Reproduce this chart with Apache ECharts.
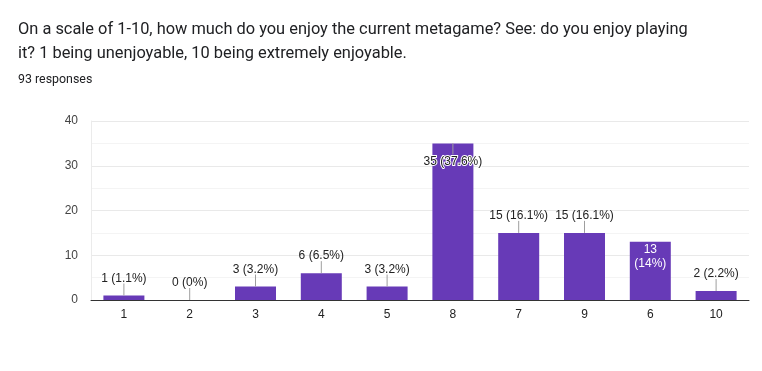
<!DOCTYPE html>
<html>
<head>
<meta charset="utf-8">
<script src="https://cdn.jsdelivr.net/npm/echarts@6/dist/echarts.min.js"></script>
<style>
html,body{margin:0;padding:0;background:#fff;}
#c{width:762px;height:371px;}
</style>
</head>
<body>
<div id="c"></div>
<script>
const categories = ['1','2','3','4','5','8','7','9','6','10'];
const counts = [1, 0, 3, 6, 3, 35, 15, 15, 13, 2];
const percents = ['1.1%','0%','3.2%','6.5%','3.2%','37.6%','16.1%','16.1%','14%','2.2%'];
const yTicks = [0, 10, 20, 30, 40];
const titleText = 'On a scale of 1-10, how much do you enjoy the current metagame? See: do you enjoy playing\nit? 1 being unenjoyable, 10 being extremely enjoyable.';
const subText = '93 responses';

const insideCats = {'8': 'halo', '6': 'white'};

const barData = counts.map((v, i) => {
  const cat = categories[i];
  const mode = insideCats[cat];
  const item = {value: v};
  if (mode === 'halo') {
    item.label = {position: 'insideTop', distance: 12, color: '#222',
      textBorderColor: '#fff', textBorderWidth: 2};
  } else if (mode === 'white') {
    item.label = {position: 'insideTop', distance: 1, color: '#fff',
      formatter: v + '\n(' + percents[i] + ')', lineHeight: 14};
  }
  return item;
});

const leaderData = counts.map((v, i) => [i, v, insideCats[categories[i]] || 'top']);

const chart = echarts.init(document.getElementById('c'), null, {renderer: 'canvas'});
chart.setOption({
  animation: false,
  title: [
    {text: titleText, left: 18, top: 18, padding: 0,
      textStyle: {fontFamily: 'Roboto', fontSize: 16.4, fontWeight: 'normal', color: '#202124', lineHeight: 24}},
    {text: subText, left: 18, top: 74, padding: 0,
      textStyle: {fontFamily: 'Roboto', fontSize: 12.4, fontWeight: 'normal', color: '#202124'}}
  ],
  grid: {left: 91, right: 13, top: 121, bottom: 71, containLabel: false},
  xAxis: {
    type: 'category', data: categories,
    axisTick: {show: false},
    axisLine: {show: true, lineStyle: {color: '#333', width: 1}},
    axisLabel: {color: '#222', fontSize: 12, fontFamily: 'Arial, Liberation Sans', margin: 9}
  },
  yAxis: {
    type: 'value', min: yTicks[0], max: yTicks[yTicks.length - 1], interval: 10,
    axisLine: {show: true, lineStyle: {color: '#ebebeb'}},
    axisTick: {show: false},
    axisLabel: {color: '#444', fontSize: 12, fontFamily: 'Arial, Liberation Sans', margin: 13},
    splitLine: {lineStyle: {color: '#e9e9e9'}},
    minorSplitLine: {show: true, lineStyle: {color: '#f4f4f4'}},
    minorTick: {show: false, splitNumber: 2}
  },
  series: [
    {
      type: 'bar', data: barData, barWidth: 41,
      itemStyle: {color: '#673ab7'},
      z: 2,
      label: {
        show: true, position: 'top', distance: 11, color: '#222',
        fontSize: 12, fontFamily: 'Arial, Liberation Sans',
        formatter: p => counts[p.dataIndex] + ' (' + percents[p.dataIndex] + ')'
      }
    },
    {
      type: 'custom', data: leaderData, z: 3, silent: true,
      renderItem: function (params, api) {
        const p = api.coord([api.value(0), api.value(1)]);
        const mode = leaderData[params.dataIndex][2];
        if (mode === 'white') return null;
        let y1 = p[1], y2 = p[1] - 12;
        if (mode === 'halo') { y2 = p[1] + 11; }
        return {type: 'line', shape: {x1: p[0], y1: y1, x2: p[0], y2: y2},
          style: {stroke: '#9e9e9e', lineWidth: 1}};
      }
    }
  ]
});
</script>
</body>
</html>
